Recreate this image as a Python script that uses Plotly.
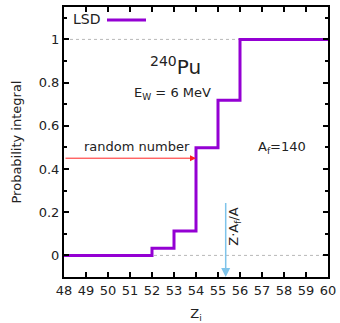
import plotly.graph_objects as go

# data
z_edges = [48, 52, 53, 54, 55, 56, 60]
prob_integral = [0.0, 0.033, 0.113, 0.498, 0.718, 1.0, 1.0]
x_ticks = list(range(48, 61))
y_ticks = [0, 0.2, 0.4, 0.6, 0.8, 1]
y_ticklabels = ["0", "0.2", "0.4", "0.6", "0.8", "1"]
random_number = 0.45
z_af_over_a = 55.35

FONT = "DejaVu Sans"
PURPLE = "#9400D3"

fig = go.Figure()
fig.add_trace(go.Scatter(
    x=z_edges, y=prob_integral, mode="lines", line_shape="hv",
    line=dict(color=PURPLE, width=3), name="LSD", showlegend=False,
))

shapes = []
for yv in (0, 1):
    shapes.append(dict(type="line", xref="paper", yref="y", x0=0, x1=1, y0=yv, y1=yv,
                       line=dict(color="#b8b8b8", width=1, dash="dot"), layer="below"))
# legend sample
shapes.append(dict(type="line", xref="paper", yref="paper", x0=(107-64)/264, x1=(146-64)/264,
                   y0=(277-20)/270, y1=(277-20)/270, line=dict(color=PURPLE, width=3)))

annotations = [
    dict(text="LSD", xref="paper", yref="paper", x=(71-64)/264, y=(277-19)/270,
         xanchor="left", yanchor="middle", showarrow=False, font=dict(size=14)),
    dict(text="<sup>240</sup>Pu", x=53.05, y=0.875, showarrow=False, font=dict(size=20)),
    dict(text="E<sub>W</sub> = 6 MeV", x=52.95, y=0.75, showarrow=False, font=dict(size=13)),
    dict(text="A<sub>f</sub>=140", x=57.9, y=0.50, showarrow=False, font=dict(size=13)),
    dict(text="random number", x=51.3, y=0.505, showarrow=False, font=dict(size=13)),
    dict(text="Z·A<sub>f</sub>/A", x=55.75, y=0.135, showarrow=False, textangle=-90, font=dict(size=13)),
    # red arrow
    dict(x=54, y=random_number, ax=48, ay=random_number, axref="x", ayref="y",
         xref="x", yref="y", text="", showarrow=True, arrowhead=2, arrowsize=1.2,
         arrowwidth=1, arrowcolor="#ff2020"),
    # blue arrow
    dict(x=z_af_over_a, y=-0.1, ax=z_af_over_a, ay=0.25, axref="x", ayref="y",
         xref="x", yref="y", text="", showarrow=True, arrowhead=2, arrowsize=1.2,
         arrowwidth=1.5, arrowcolor="#7fc4ea"),
]

axis_common = dict(showline=True, linecolor="black", linewidth=2, mirror="allticks",
                   ticks="inside", ticklen=5, tickwidth=1.5, tickcolor="black",
                   showgrid=False, zeroline=False, automargin=False,
                   tickfont=dict(size=13, color="#222"))

fig.update_layout(
    width=340, height=323, margin=dict(l=64, r=12, t=7, b=46),
    paper_bgcolor="white", plot_bgcolor="white",
    font=dict(family=FONT, size=13, color="#222"),
    xaxis=dict(range=[48, 60], tickvals=x_ticks, ticktext=[str(v) for v in x_ticks],
               title=dict(text="Z<sub>i</sub>", standoff=14, font=dict(size=13)), **axis_common),
    yaxis=dict(range=[-0.1, 1.15], tickvals=y_ticks, ticktext=y_ticklabels,
               title=dict(text="Probability integral", standoff=14, font=dict(size=13)),
               minor=dict(ticks="inside", dtick=0.1, ticklen=3, tickwidth=1.5, tickcolor="black"),
               **axis_common),
    shapes=shapes, annotations=annotations, showlegend=False,
)

fig.write_html("out.html")
